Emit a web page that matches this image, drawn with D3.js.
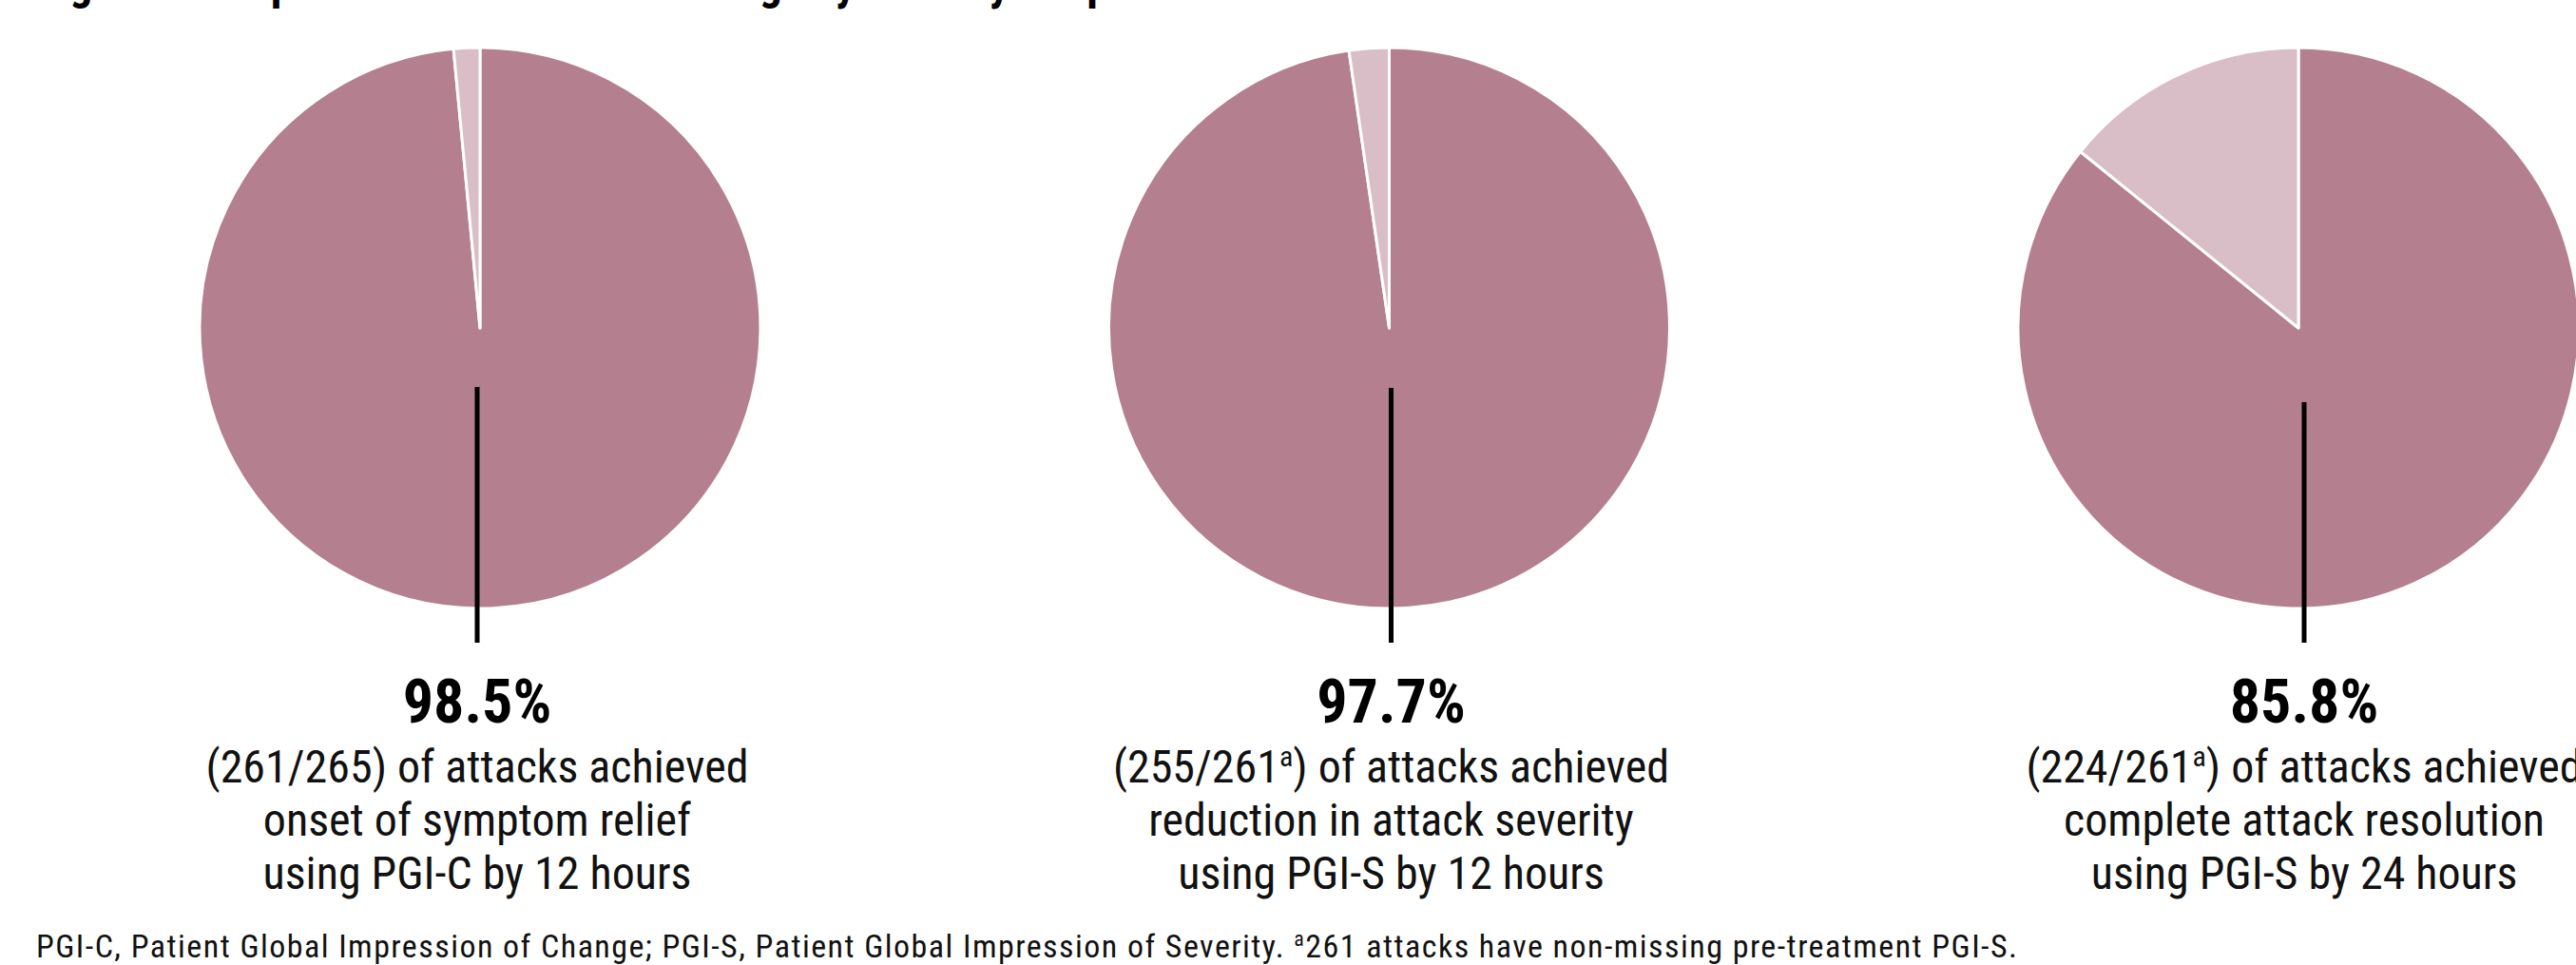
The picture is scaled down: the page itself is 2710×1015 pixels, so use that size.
<!DOCTYPE html>
<html>
<head>
<script src="https://cdn.jsdelivr.net/npm/d3@7"></script>
<style type="text/css">
  body { margin: 0; background: #fff; }
  svg { display: block; }
  .head { font-family: "Roboto Condensed", "Liberation Sans Narrow", sans-serif; font-weight: 700; }
  .lab { font-family: "Roboto Condensed", "Liberation Sans Narrow", sans-serif; }
  .foot { font-family: "Liberation Sans Narrow", "Roboto Condensed", sans-serif; }
</style>
</head>
<body>
<script type="text/javascript">

// data
var titleText = "Figure 3: Proportion of attacks achieving key efficacy endpoints";
var percents = ["98.5%", "97.7%", "85.8%"];
var achieved = [261, 255, 224];
var totals = [265, 261, 261];
var totalMarks = ["", "a", "a"];
var endpoints = ["onset of symptom relief", "reduction in attack severity", "complete attack resolution"];
var methods = ["using PGI-C by 12 hours", "using PGI-S by 12 hours", "using PGI-S by 24 hours"];
var sliceNames = ["achieved", "not achieved"];
var footText = "PGI-C, Patient Global Impression of Change; PGI-S, Patient Global Impression of Severity. ";
var footMark = "a";
var footRest = "261 attacks have non-missing pre-treatment PGI-S.";

var width = 2710, height = 1015;
var radius = 295;

var svg = d3.select("body").append("svg")
    .attr("width", width)
    .attr("height", height);

// title sits mostly above the visible area
svg.append("text")
    .attr("class", "head")
    .attr("x", 38)
    .attr("y", -1)
    .attr("font-size", 48)
    .text(titleText);

var x = d3.scalePoint()
    .domain(d3.range(percents.length))
    .range([505, 2418]);

var color = d3.scaleOrdinal()
    .domain(sliceNames)
    .range(["#b47f8f", "#d9bec8"]);

var pie = d3.pie().sort(null).value(function(d) { return d.value; });
var arc = d3.arc().innerRadius(0).outerRadius(radius);

// little offsets of the leader lines, as in the original
var lineShift = [-3, 2, 6];
var lineTop = [407, 408, 423];

var groups = svg.selectAll(".pie")
    .data(d3.range(percents.length))
  .enter().append("g")
    .attr("class", "pie")
    .attr("transform", function(i) { return "translate(" + x(i) + ",345)"; });

groups.selectAll("path")
    .data(function(i) {
      return pie([
        {name: sliceNames[0], value: achieved[i]},
        {name: sliceNames[1], value: totals[i] - achieved[i]}
      ]);
    })
  .enter().append("path")
    .attr("d", arc)
    .attr("fill", function(d) { return color(d.data.name); })
    .attr("stroke", "#fff")
    .attr("stroke-width", 3)
    .attr("stroke-linejoin", "round");

groups.append("line")
    .attr("x1", function(i) { return lineShift[i]; })
    .attr("x2", function(i) { return lineShift[i]; })
    .attr("y1", function(i) { return lineTop[i] - 345; })
    .attr("y2", 676 - 345)
    .attr("stroke", "#000")
    .attr("stroke-width", 5);

groups.append("text")
    .attr("class", "head")
    .attr("x", function(i) { return lineShift[i]; })
    .attr("y", 760 - 345)
    .attr("text-anchor", "middle")
    .attr("font-size", 64)
    .text(function(i) { return percents[i]; });

var lab = groups.append("text")
    .attr("class", "lab")
    .attr("text-anchor", "middle")
    .attr("font-size", 48)
    .attr("fill", "#111");

var l1 = lab.append("tspan")
    .attr("x", function(i) { return lineShift[i]; })
    .attr("y", 823 - 345);
l1.append("tspan").text(function(i) { return "(" + achieved[i] + "/" + totals[i]; });
l1.append("tspan")
    .attr("font-size", 30)
    .attr("dy", -17)
    .text(function(i) { return totalMarks[i]; });
l1.append("tspan")
    .attr("dy", function(i) { return totalMarks[i] ? 17 : 0; })
    .text(") of attacks achieved");

lab.append("tspan")
    .attr("x", function(i) { return lineShift[i]; })
    .attr("y", 879 - 345)
    .text(function(i) { return endpoints[i]; });

lab.append("tspan")
    .attr("x", function(i) { return lineShift[i]; })
    .attr("y", 935 - 345)
    .text(function(i) { return methods[i]; });

var foot = svg.append("text")
    .attr("class", "foot")
    .attr("x", 38)
    .attr("y", 1007)
    .attr("font-size", 34)
    .attr("fill", "#111");
foot.append("tspan").text(footText);
foot.append("tspan").attr("font-size", 22).attr("dy", -12).text(footMark);
foot.append("tspan").attr("dy", 12).text(footRest);

// stretch the footnote to the width it has in the original
var fw = foot.node().getComputedTextLength();
foot.attr("textLength", 2084).attr("lengthAdjust", "spacing");

</script>
</body>
</html>
